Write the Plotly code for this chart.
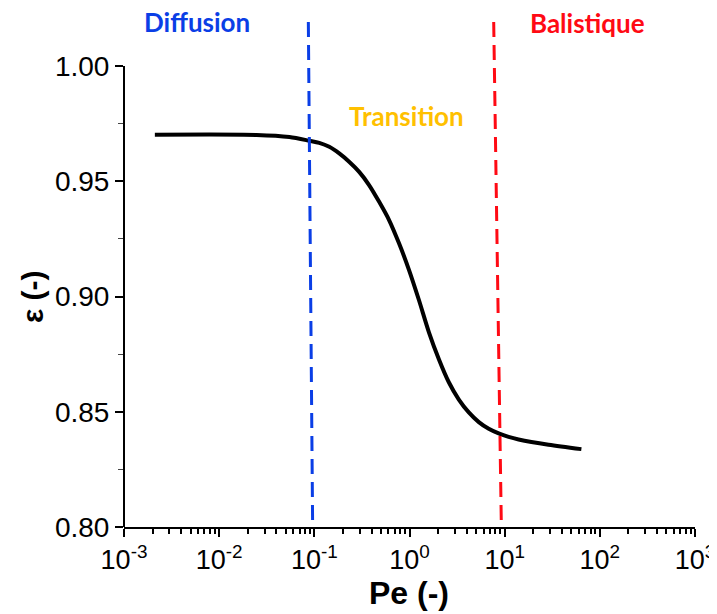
import plotly.graph_objects as go

# Courbe epsilon(Pe), points
pe = [0.00211, 0.0247, 0.0547, 0.0887, 0.1127, 0.1435, 0.1828, 0.232, 0.296,
      0.376, 0.480, 0.610, 0.776, 0.989, 1.256, 1.60, 2.04, 2.59, 3.30, 4.20,
      5.35, 6.80, 8.65, 11.0, 14.0, 28.9, 64.0]
eps = [0.9702, 0.9701, 0.9692, 0.9676, 0.9667, 0.9650, 0.9621, 0.9585, 0.9541,
       0.9484, 0.9411, 0.9332, 0.9231, 0.9115, 0.8985, 0.8845, 0.8727, 0.8628,
       0.8553, 0.8497, 0.8455, 0.8426, 0.8406, 0.8391, 0.8380, 0.8357, 0.8338]

# limites des regimes (lignes pointillees, legerement inclinees)
diff_x = [0.0865, 0.096]
bal_x = [7.67, 9.23]
lim_y = [1.0191, 0.80]

x_ticks = [0.001, 0.01, 0.1, 1, 10, 100, 1000]
x_labels = ["10<sup>-3</sup>", "10<sup>-2</sup>", "10<sup>-1</sup>", "10<sup>0</sup>",
            "10<sup>1</sup>", "10<sup>2</sup>", "10<sup>3</sup>"]

fig = go.Figure()
fig.add_trace(go.Scatter(x=pe, y=eps, mode="lines", line_shape="spline",
                         line=dict(color="black", width=4, smoothing=0.8)))
fig.add_trace(go.Scatter(x=diff_x, y=lim_y, mode="lines",
                         line=dict(color="#0a3ee6", width=3, dash="15px,8px")))
fig.add_trace(go.Scatter(x=bal_x, y=lim_y, mode="lines",
                         line=dict(color="#ff0a14", width=3, dash="15px,8px")))

# axe y dessine a la main pour qu'il s'arrete a 1.00
fig.add_shape(type="line", xref="paper", yref="y", x0=0, x1=0, y0=0.80, y1=1.00,
              line=dict(color="black", width=2))

lab_font = dict(family="Lato", size=26)
labels = [("<b>Diffusion</b>", 0.127, 0.996, "#0a3ee6"),
          ("<b>Transition</b>", 0.494, 0.811, "#ffc000"),
          ("<b>Balistique</b>", 0.812, 0.994, "#ff0a14")]
for txt, px, py, col in labels:
    fig.add_annotation(text=txt, xref="paper", yref="paper", x=px, y=py,
                       xanchor="center", yanchor="middle", showarrow=False,
                       font=dict(lab_font, color=col))

fig.add_annotation(text="<b>ε (-)</b>", xref="paper", yref="paper", x=-0.159, y=0.454,
                   xanchor="center", yanchor="middle", textangle=-90, showarrow=False,
                   font=dict(family="Liberation Sans", size=30, color="black"))
fig.add_annotation(text="<b>Pe (-)</b>", xref="paper", yref="paper", x=0.499, y=-0.130,
                   xanchor="center", yanchor="middle", showarrow=False,
                   font=dict(family="Liberation Sans", size=32, color="black"))

fig.update_xaxes(type="log", range=[-3, 3], tickvals=x_ticks, ticktext=x_labels,
                 showline=True, linecolor="black", linewidth=2, showgrid=False,
                 ticks="outside", ticklen=8, tickwidth=2, tickcolor="black",
                 minor=dict(ticks="outside", ticklen=5, tickwidth=1.5, tickcolor="black",
                            dtick="D1", showgrid=False),
                 tickfont=dict(family="Liberation Sans", size=27, color="black"),
                 zeroline=False, automargin=False)
fig.update_yaxes(range=[0.80, 1.02], tick0=0.8, dtick=0.05, tickformat=".2f",
                 showline=False, showgrid=False, zeroline=False,
                 ticks="outside", ticklen=8, tickwidth=2, tickcolor="black",
                 minor=dict(ticks="outside", ticklen=5, tickwidth=1, tickcolor="#444",
                            dtick=0.025, showgrid=False),
                 tickfont=dict(family="Liberation Sans", size=28, color="black"),
                 automargin=False)

# la page ajoute une marge de 8 px autour de la figure
fig.update_layout(width=717, height=606, showlegend=False,
                  plot_bgcolor="white", paper_bgcolor="white",
                  margin=dict(l=116, r=30, t=12, b=87))

fig.write_html("out.html")
